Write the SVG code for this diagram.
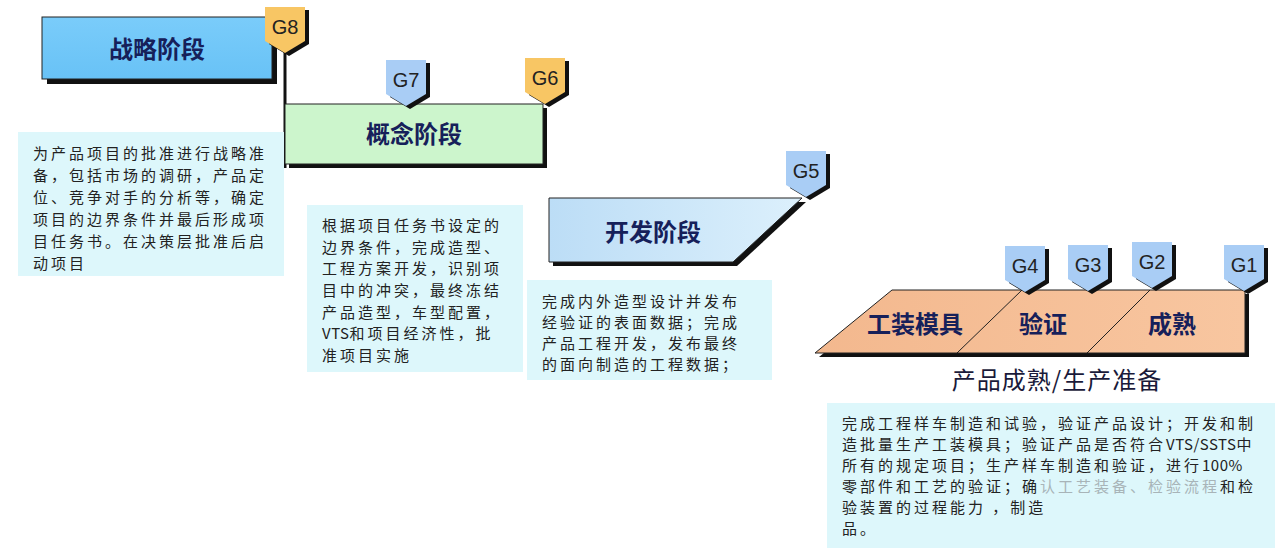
<svg xmlns="http://www.w3.org/2000/svg" width="1280" height="553" viewBox="0 0 1280 553">
<defs>
<linearGradient id="gStrat" x1="0" y1="0" x2="0" y2="1"><stop offset="0" stop-color="#7ACCFA"/><stop offset="1" stop-color="#68C2F6"/></linearGradient>
<linearGradient id="gDev" x1="0" y1="0" x2="1" y2="0"><stop offset="0" stop-color="#BCDDF6"/><stop offset="1" stop-color="#DCF0FC"/></linearGradient>
<linearGradient id="gProd" x1="0" y1="0" x2="1" y2="0"><stop offset="0" stop-color="#F3B88E"/><stop offset="1" stop-color="#F8C6A0"/></linearGradient>
<path id="tagShape" d="M0,0 H40 V34 L20,46 L0,34 Z"/>
</defs>
<style>
.head{font-family:"Noto Sans CJK SC","Noto Sans",sans-serif;font-size:24px;font-weight:bold;fill:#16205A;text-anchor:middle}
.body{font-family:"Noto Sans CJK SC","Noto Sans",sans-serif;font-size:15px;fill:#222;letter-spacing:3px}
.lat{letter-spacing:0.5px}
.note{fill:#DDF7FB}
.tagY{fill:#F8C664}
.tagB{fill:#A9CDF5}
.tagS{fill:#111}
.tagT{font-family:"Liberation Sans",Arial,sans-serif;font-size:20px;fill:#222;text-anchor:middle}
.shadow{fill:#111}
.cap{font-family:"Noto Sans CJK SC","Noto Sans",sans-serif;font-size:24px;fill:#1A1A3A;text-anchor:middle;letter-spacing:1px}
.faded{fill:#A8B4B8}
</style>
<rect width="1280" height="553" fill="#FFFFFF"/>

<g id="connectors">
<line x1="285" y1="48" x2="285" y2="168" stroke="#111" stroke-width="3"/>
</g>

<g id="strategy">
<rect class="shadow" x="47" y="22" width="230" height="62"/>
<rect x="42" y="17" width="230" height="62" fill="url(#gStrat)" stroke="#222" stroke-width="1"/>
<text class="head" x="157" y="58">战略阶段</text>
</g>

<g id="concept">
<rect class="shadow" x="289" y="108" width="258" height="60"/>
<rect x="285" y="104" width="258" height="60" fill="#CCF5CC" stroke="#222" stroke-width="1"/>
<text class="head" x="414" y="143">概念阶段</text>
</g>

<g id="development">
<polygon class="shadow" points="553,202 806,202 737,266 553,266"/>
<polygon points="549,198 802,198 733,262 549,262" fill="url(#gDev)" stroke="#222" stroke-width="1"/>
<text class="head" x="653" y="241">开发阶段</text>
</g>

<g id="production">
<polygon class="shadow" points="896,294 1249,294 1249,357 819,357"/>
<polygon points="892,290 1245,290 1245,353 815,353" fill="url(#gProd)" stroke="#222" stroke-width="1"/>
<line x1="1022" y1="290" x2="957" y2="353" stroke="#222" stroke-width="1"/>
<line x1="1150" y1="290" x2="1087" y2="353" stroke="#222" stroke-width="1"/>
<text class="head" x="915" y="333">工装模具</text>
<text class="head" x="1043" y="333">验证</text>
<text class="head" x="1172" y="333">成熟</text>
<text class="cap" x="1057" y="389">产品成熟/生产准备</text>
</g>

<g id="G8" transform="translate(265,7)">
<use href="#tagShape" class="tagS" transform="translate(4,3)"/>
<use href="#tagShape" class="tagY"/>
<text class="tagT" x="20" y="27">G8</text>
</g>
<g id="G7" transform="translate(386,60)">
<use href="#tagShape" class="tagS" transform="translate(4,3)"/>
<use href="#tagShape" class="tagB"/>
<text class="tagT" x="20" y="27">G7</text>
</g>
<g id="G6" transform="translate(525,58)">
<use href="#tagShape" class="tagS" transform="translate(4,3)"/>
<use href="#tagShape" class="tagY"/>
<text class="tagT" x="20" y="27">G6</text>
</g>
<g id="G5" transform="translate(786,151)">
<use href="#tagShape" class="tagS" transform="translate(4,3)"/>
<use href="#tagShape" class="tagB"/>
<text class="tagT" x="20" y="27">G5</text>
</g>
<g id="G4" transform="translate(1005,246)">
<use href="#tagShape" class="tagS" transform="translate(4,3)"/>
<use href="#tagShape" class="tagB"/>
<text class="tagT" x="20" y="27">G4</text>
</g>
<g id="G3" transform="translate(1068,245)">
<use href="#tagShape" class="tagS" transform="translate(4,3)"/>
<use href="#tagShape" class="tagB"/>
<text class="tagT" x="20" y="27">G3</text>
</g>
<g id="G2" transform="translate(1132,242)">
<use href="#tagShape" class="tagS" transform="translate(4,3)"/>
<use href="#tagShape" class="tagB"/>
<text class="tagT" x="20" y="27">G2</text>
</g>
<g id="G1" transform="translate(1224,245)">
<use href="#tagShape" class="tagS" transform="translate(4,3)"/>
<use href="#tagShape" class="tagB"/>
<text class="tagT" x="20" y="27">G1</text>
</g>

<g id="note-strategy">
<rect class="note" x="18" y="132" width="266" height="144"/>
<text class="body" x="33" y="159">为产品项目的批准进行战略准</text>
<text class="body" x="33" y="181">备，包括市场的调研，产品定</text>
<text class="body" x="33" y="203">位、竞争对手的分析等，确定</text>
<text class="body" x="33" y="225">项目的边界条件并最后形成项</text>
<text class="body" x="33" y="247">目任务书。在决策层批准后启</text>
<text class="body" x="33" y="269">动项目</text>
</g>

<g id="note-concept">
<rect class="note" x="307" y="205" width="216" height="167"/>
<text class="body" x="322" y="231">根据项目任务书设定的</text>
<text class="body" x="322" y="253">边界条件，完成造型、</text>
<text class="body" x="322" y="274">工程方案开发，识别项</text>
<text class="body" x="322" y="296">目中的冲突，最终冻结</text>
<text class="body" x="322" y="318">产品造型，车型配置，</text>
<text class="body" x="322" y="339"><tspan class="lat">VTS</tspan>和项目经济性，批</text>
<text class="body" x="322" y="361">准项目实施</text>
</g>

<g id="note-development">
<rect class="note" x="527" y="280" width="245" height="100"/>
<text class="body" x="542" y="307">完成内外造型设计并发布</text>
<text class="body" x="542" y="328">经验证的表面数据；完成</text>
<text class="body" x="542" y="349">产品工程开发，发布最终</text>
<text class="body" x="542" y="370">的面向制造的工程数据；</text>
</g>

<g id="note-production">
<rect class="note" x="827" y="403" width="448" height="145"/>
<text class="body" x="842" y="429">完成工程样车制造和试验，验证产品设计；开发和制</text>
<text class="body" x="842" y="450">造批量生产工装模具；验证产品是否符合<tspan class="lat">VTS/SSTS</tspan>中</text>
<text class="body" x="842" y="471">所有的规定项目；生产样车制造和验证，进行<tspan class="lat">100%</tspan></text>
<text class="body" x="842" y="492">零部件和工艺的验证；确<tspan class="faded">认工艺装备、检验流程</tspan>和检</text>
<text class="body" x="842" y="513">验装置的过程能力 ，制造</text>
<text class="body" x="842" y="534">品。</text>
</g>
</svg>
